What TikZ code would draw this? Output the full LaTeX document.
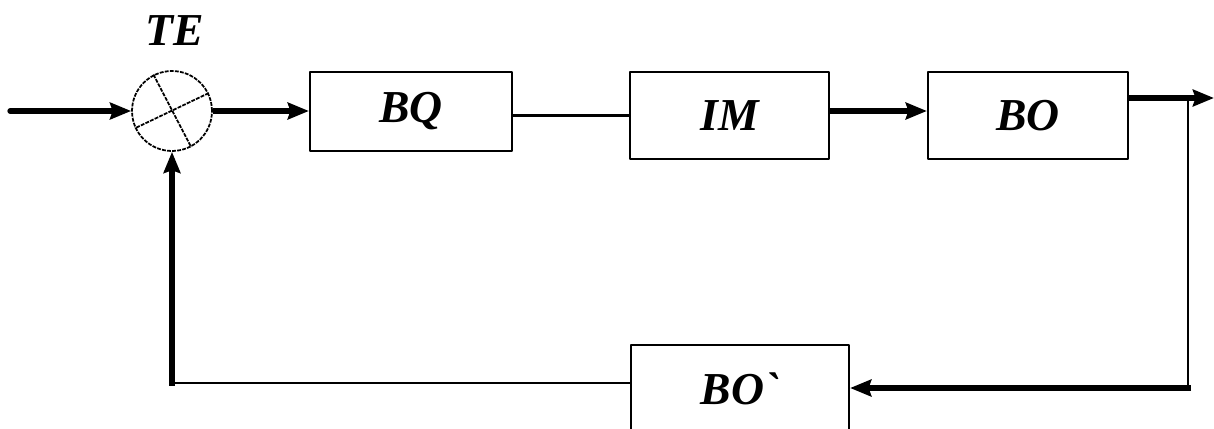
\documentclass[tikz,border=0pt]{standalone}
\usepackage{fontspec}
\setmainfont{Liberation Serif}
\usetikzlibrary{arrows.meta}
\begin{document}
\begin{tikzpicture}[x=0.02cm, y=-0.02cm, line join=round, font=\fontsize{26}{30}\selectfont\bfseries\itshape,
	>={Stealth[length=12pt,width=9.5pt,inset=1.5pt]}]
	\tikzset{block/.style={draw, line width=1.3pt, inner sep=0pt},
		thickline/.style={line width=3pt},
		thinline/.style={line width=1.3pt},
		fineline/.style={line width=1pt, dash pattern=on 2.2pt off 0.7pt}}
	\useasboundingbox (0,0) rectangle (1214,429);
	\clip (0,0) rectangle (1214,429);
	% Bo so sanh
	\node[circle, fineline, draw, minimum size=1.6cm, inner sep=0pt] (sum) at (172,111) {};
	\draw[fineline] (sum.117)--(sum.-62) (sum.26)--(sum.205);
	\node (te) at (175,31) {TE};
	% Cac khoi
	\node[block, minimum width=4.04cm, minimum height=1.58cm] (bq) at (411,111.5) {BQ};
	\node[block, minimum width=3.98cm, minimum height=1.74cm] (im) at (729.5,115.5) {IM};
	\node[block, minimum width=4cm, minimum height=1.74cm] (bo) at (1028,115.5) {BO};
	\node[block, minimum width=4.36cm, minimum height=1.74cm] (fb) at (740,388.5) {BO\textasciigrave};
	\coordinate (in) at (10,111);
	\coordinate (tap) at (1188,98);
	\coordinate (out) at (1214,98);
	\coordinate (fbr) at (1191,388);
	\coordinate (corner) at (172,383);
	% Duong noi
	\draw[thickline,->,line cap=round] (in)--(sum.west);
	\draw[thickline,->] (sum.east)--(bq.west|-sum.east);
	\draw[thinline] (bq.east|-im.west)--(im.west);
	\draw[thickline,->] (im.east|-sum)--(bo.west|-sum);
	\draw[thickline,->] (bo.east|-tap)--(out);
	\draw[thinline] (tap)--(tap|-fbr);
	\draw[thickline,->] (fbr)--(fb.east|-fbr);
	\draw[thinline] (fb.west|-corner)--(corner);
	\draw[thickline,->] ([yshift=-1.5pt]corner)--(sum.south);
\end{tikzpicture}
\end{document}
